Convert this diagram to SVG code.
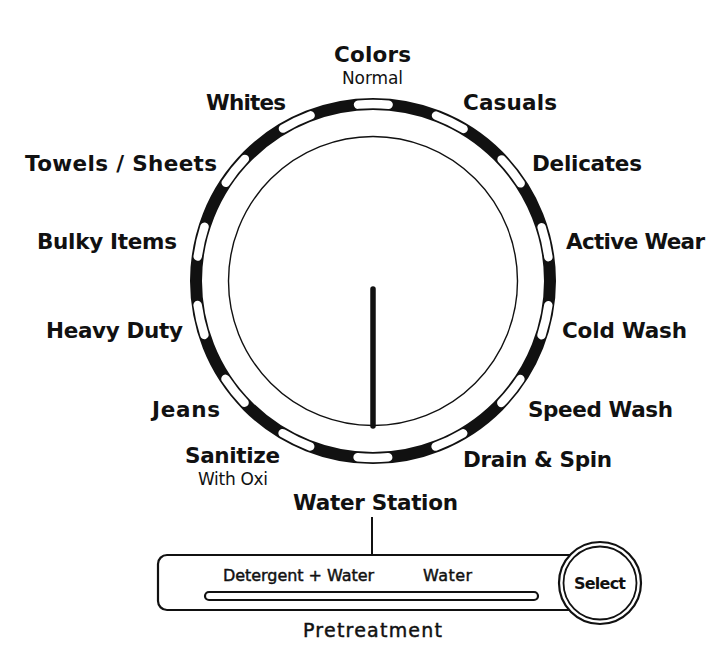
<svg xmlns="http://www.w3.org/2000/svg" width="714" height="667" viewBox="0 0 714 667">
<style>
  text { font-family: "DejaVu Sans", "Liberation Sans", sans-serif; fill: #111; }
  .lbl { font-size: 21.5px; font-weight: bold; }
  .sub { font-size: 17px; font-weight: normal; }
  .sm { font-size: 16px; font-weight: normal; stroke: #111; stroke-width: 0.45px; }
  .ln { fill: none; stroke: #111; }
  .box { fill: #ffffff; stroke: #111; }
</style>
<rect width="714" height="667" fill="#ffffff"/>
<g id="dial">
  <circle cx="373" cy="281" r="177" class="ln" stroke-width="12"/>
  <circle cx="373" cy="281" r="177" fill="none" stroke="#ffffff" stroke-width="8.5" stroke-linecap="round" stroke-dasharray="30.6 48.837" stroke-dashoffset="-24.419"/>
  <circle cx="373" cy="281" r="144.5" class="ln" stroke-width="1.4"/>
  <line x1="373" y1="289" x2="373" y2="426" stroke="#111" stroke-width="5.5" stroke-linecap="round"/>
</g>
<g id="label-colors"><text class="lbl" x="334" y="62" textLength="77">Colors</text><text class="sub" x="342" y="84" textLength="61">Normal</text></g>
<g id="label-whites"><text class="lbl" x="206" y="110" textLength="80">Whites</text></g>
<g id="label-casuals"><text class="lbl" x="463" y="110" textLength="94">Casuals</text></g>
<g id="label-towels"><text class="lbl" x="25" y="171" textLength="192">Towels / Sheets</text></g>
<g id="label-delicates"><text class="lbl" x="532" y="171" textLength="110">Delicates</text></g>
<g id="label-bulky"><text class="lbl" x="37" y="249" textLength="140">Bulky Items</text></g>
<g id="label-active"><text class="lbl" x="566" y="249" textLength="139">Active Wear</text></g>
<g id="label-heavy"><text class="lbl" x="46" y="338" textLength="137">Heavy Duty</text></g>
<g id="label-cold"><text class="lbl" x="562" y="338" textLength="125">Cold Wash</text></g>
<g id="label-jeans"><text class="lbl" x="152" y="417" textLength="68">Jeans</text></g>
<g id="label-speed"><text class="lbl" x="528" y="417" textLength="145">Speed Wash</text></g>
<g id="label-sanitize"><text class="lbl" x="185" y="463" textLength="95">Sanitize</text><text class="sub" x="198" y="485" textLength="70">With Oxi</text></g>
<g id="label-drain"><text class="lbl" x="463" y="467" textLength="149">Drain &amp; Spin</text></g>
<g id="water-station"><text class="lbl" x="293" y="510" textLength="165">Water Station</text></g>
<g id="connectors">
  <line x1="372" y1="517" x2="372" y2="556" class="ln" stroke-width="2"/>
</g>
<g id="pretreatment-panel">
  <rect x="158" y="555" width="430" height="55" rx="9" class="box" stroke-width="2.2"/>
  <rect x="205" y="592" width="333" height="8" rx="4" class="box" stroke-width="2.2"/>
  <text class="sm" x="223" y="581" textLength="151">Detergent + Water</text>
  <text class="sm" x="423" y="581" textLength="49">Water</text>
  <text class="sm" x="303" y="637" textLength="139" style="font-size:19px">Pretreatment</text>
</g>
<g id="select-button">
  <circle cx="600" cy="583" r="41" class="box" stroke-width="2.2"/>
  <circle cx="600" cy="583" r="36.5" class="ln" stroke-width="1.8"/>
  <text class="sm" x="574" y="589" textLength="52" style="font-weight:bold;stroke:none">Select</text>
</g>
</svg>
